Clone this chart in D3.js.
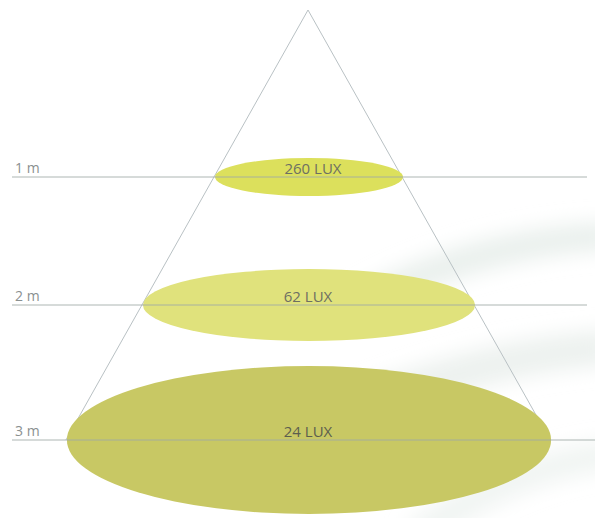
<!DOCTYPE html>
<html>
<head>
  <meta charset="UTF-8" />
  <script src="https://d3js.org/d3.v7.min.js"></script>
  <style>
    body { margin: 0; background: #fff; }
    text { font-family: "Open Sans", "DejaVu Sans", sans-serif; }
  </style>
</head>
<body>
  <script>
    // distance from the lamp (m), illuminance (lux), tick labels
    var distances = [1, 2, 3];
    var luxValues = [260, 62, 24];
    var distLabels = ["1 m", "2 m", "3 m"];
    var spotColors = ["#dce05c", "#e0e27c", "#c8c864"];

    var width = 595, height = 518;

    var svg = d3.select("body").append("svg")
      .attr("width", width)
      .attr("height", height);

    // faint blurred background swooshes
    var defs = svg.append("defs");
    defs.append("filter").attr("id", "blur")
      .attr("x", "-20%").attr("y", "-50%").attr("width", "140%").attr("height", "200%")
      .append("feGaussianBlur").attr("stdDeviation", 10);
    var bg = svg.append("g").attr("filter", "url(#blur)").attr("fill", "#e8eeeb");
    bg.append("path")
      .attr("d", "M340,300 C420,250 520,225 610,222 L610,250 C520,255 440,280 370,315 Z")
      .attr("opacity", 0.9);
    bg.append("path")
      .attr("d", "M330,400 C420,360 520,335 610,330 L610,365 C520,372 440,395 360,430 Z")
      .attr("opacity", 0.8);
    bg.append("path")
      .attr("d", "M400,530 C460,480 530,450 610,440 L610,470 C540,480 480,510 440,540 Z")
      .attr("opacity", 0.6);

    // vertical distance scale (apex at 0 m)
    var y = d3.scaleLinear().domain([0, 1, 2, 3]).range([10, 177, 305, 440]);
    var apexX = 308;
    var spread = 0.563; // half-width per pixel of depth
    var halfW = function (m) { return (y(m) - y(0)) * spread; };
    var ry = d3.scaleLinear().domain([1, 2, 3]).range([19, 36, 74]);

    var rows = distances.map(function (d, i) {
      return { m: d, lux: luxValues[i], label: distLabels[i], color: spotColors[i] };
    });

    // cone
    var bottom = 3;
    svg.append("path")
      .attr("d", "M" + (apexX - halfW(bottom)) + "," + y(bottom) +
        "L" + apexX + "," + y(0) +
        "L" + (apexX + halfW(bottom)) + "," + y(bottom))
      .attr("fill", "none")
      .attr("stroke", "#b9c1c4")
      .attr("stroke-width", 1);

    // light spots
    svg.selectAll("ellipse.spot").data(rows).enter().append("ellipse")
      .attr("class", "spot")
      .attr("cx", apexX + 1)
      .attr("cy", function (d) { return y(d.m); })
      .attr("rx", function (d) { return halfW(d.m); })
      .attr("ry", function (d) { return ry(d.m); })
      .attr("fill", function (d) { return d.color; });

    // distance lines
    svg.selectAll("line.dist").data(rows).enter().append("line")
      .attr("class", "dist")
      .attr("x1", 12).attr("x2", function (d, i) { return i === 2 ? 595 : 587; })
      .attr("y1", function (d) { return y(d.m); })
      .attr("y2", function (d) { return y(d.m); })
      .attr("stroke", "#9fa9a6")
      .attr("stroke-opacity", 0.85)
      .attr("stroke-width", 1);

    svg.selectAll("text.dist").data(rows).enter().append("text")
      .attr("class", "dist")
      .attr("x", 15)
      .attr("y", function (d) { return y(d.m) - 4; })
      .attr("font-size", 14)
      .attr("fill", "#8a9090")
      .text(function (d) { return d.label; });

    svg.selectAll("text.lux").data(rows).enter().append("text")
      .attr("class", "lux")
      .attr("x", function (d, i) { return apexX + (i === 0 ? 5 : 0); })
      .attr("y", function (d) { return y(d.m) - 3; })
      .attr("text-anchor", "middle")
      .attr("font-size", 15)
      .attr("fill", function (d, i) { return i === 2 ? "#5c5e4e" : "#6d6f62"; })
      .text(function (d) { return d.lux + " LUX"; });
  </script>
</body>
</html>
